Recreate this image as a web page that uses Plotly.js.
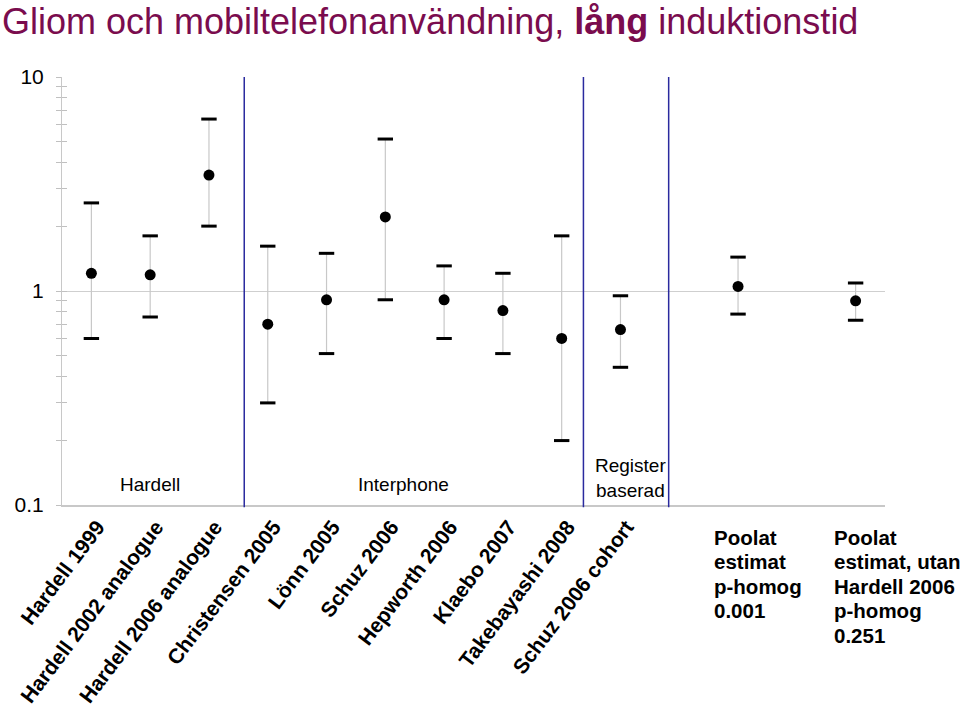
<!DOCTYPE html>
<html>
<head>
<meta charset="utf-8">
<script src="https://cdn.plot.ly/plotly-3.0.1.min.js"></script>
<style>html,body{margin:0;padding:0;background:#fff}#chart{width:960px;height:707px}</style>
</head>
<body>
<div id="chart"></div>
<script>
// Study labels (x axis categories)
const studies = ["Hardell 1999","Hardell 2002 analogue","Hardell 2006 analogue","Christensen 2005","Lönn 2005","Schuz 2006","Hepworth 2006","Klaebo 2007","Takebayashi 2008","Schuz 2006 cohort"];
// Slot of each estimate on the x axis (two pooled estimates at slots 11 and 13)
const slots = [0,1,2,3,4,5,6,7,8,9,11,13];
// Odds ratios and 95% CI
const oddsRatio = [1.21,1.19,3.48,0.70,0.91,2.22,0.91,0.81,0.60,0.66,1.05,0.90];
const ciUpper   = [2.58,1.81,6.36,1.62,1.50,5.13,1.31,1.21,1.81,0.95,1.44,1.09];
const ciLower   = [0.60,0.756,2.01,0.30,0.51,0.91,0.60,0.51,0.20,0.44,0.78,0.73];
// Y tick labels
const yTickVals = [0.1,1,10];
const yTickText = ["0.1","1","10"];
const yMinor = [0.2,0.3,0.4,0.5,0.6,0.7,0.8,0.9,2,3,4,5,6,7,8,9];
// Group labels
const groupNames = ["Hardell","Interphone","Register<br>baserad"];
// Pooled estimate notes
const pooledNote1 = ["Poolat","estimat","p-homog","0.001"];
const pooledNote2 = ["Poolat","estimat, utan","Hardell 2006","p-homog","0.251"];

const FONT = "Liberation Sans, Arial, Helvetica, sans-serif";

const traces = [
  {
    type:'scatter', mode:'markers', x: slots, y: oddsRatio,
    marker:{color:'#000', size:11, symbol:'circle'},
    error_y:{type:'data', symmetric:false,
      array: oddsRatio.map((v,i)=>ciUpper[i]-v),
      arrayminus: oddsRatio.map((v,i)=>v-ciLower[i]),
      color:'#c8c8c8', thickness:1.2, width:0},
    hoverinfo:'skip', showlegend:false
  },
  {
    type:'scatter', mode:'markers', x: slots.concat(slots), y: ciUpper.concat(ciLower),
    marker:{symbol:'line-ew', size:11, line:{color:'#000', width:3}},
    yaxis:'y2', hoverinfo:'skip', showlegend:false
  }
];

// separators between groups (layout positions)
const sepX = [2.6, 8.37, 9.82];
const shapes = sepX.map(s => ({
  type:'line', xref:'x', yref:'paper', x0:s, x1:s, y0:-0.005, y1:1,
  line:{color:'#2a2a9e', width:1.5}
}));

const groupPos = [[1,-0.902],[5.31,-0.902],[9.17,-0.875]];
const annotations = groupNames.map((t,i)=>({
  x:groupPos[i][0], y:groupPos[i][1], xref:'x', yref:'y', text:t, showarrow:false,
  font:{family:FONT,size:19,color:'#000'}
}));

const lineTops = [537,561.5,586,610.5,635];
function addNote(lines, xpx){
  lines.forEach((t,i)=>{
    annotations.push({xref:'paper', yref:'paper', x:(xpx-62)/823, y:-(lineTops[i]-505)/428,
      xanchor:'left', yanchor:'middle', align:'left', text:'<b>'+t+'</b>', showarrow:false,
      font:{family:FONT,size:20.5,color:'#000'}});
  });
}
addNote(pooledNote1, 712);
addNote(pooledNote2, 832);

const layout = {
  width:960, height:707,
  margin:{l:62, r:75, t:77, b:202},
  paper_bgcolor:'#fff', plot_bgcolor:'#fff',
  title:{text:'Gliom och mobiltelefonanvändning, <b>lång</b> induktionstid', x:0.002, xref:'container', xanchor:'left',
    y:1-21/707, yref:'container', yanchor:'middle', pad:{t:0, l:0, b:0, r:0},
    font:{family:FONT, size:36, color:'#7a0c4e'}},
  xaxis:{range:[-0.5,13.5], tickvals:slots.slice(0,10), ticktext:studies.map(s=>'<b>'+s+'</b>'),
    tickangle:-53, tickfont:{family:FONT,size:21,color:'#000'}, showgrid:false, zeroline:false,
    ticklabelshift:6,
    showline:true, linecolor:'#c8c8c8', linewidth:1.5, ticks:'', fixedrange:true},
  yaxis:{type:'log', range:[-1,1], tickvals:yTickVals, ticktext:yTickText,
    tickfont:{family:FONT,size:21,color:'#000'}, showgrid:true, gridcolor:'#cfcfcf', gridwidth:1,
    showline:true, linecolor:'#c8c8c8', linewidth:1, ticks:'outside', ticklen:5, tickcolor:'#c0c0c0',
    ticklabelstandoff:8, zeroline:false,
    minor:{tickvals:yMinor, ticks:'outside', ticklen:5, tickcolor:'#c0c0c0', showgrid:false}},
  yaxis2:{type:'log', range:[-1,1], overlaying:'y', side:'left', showticklabels:false, showgrid:false,
    tickvals:yTickVals, ticks:'inside', ticklen:5, tickcolor:'#c0c0c0', zeroline:false, showline:false,
    minor:{tickvals:yMinor, ticks:'inside', ticklen:5, tickcolor:'#c0c0c0', showgrid:false}},
  shapes:shapes,
  annotations:annotations,
  showlegend:false
};

Plotly.newPlot('chart', traces, layout, {displayModeBar:false, staticPlot:true});
</script>
</body>
</html>
